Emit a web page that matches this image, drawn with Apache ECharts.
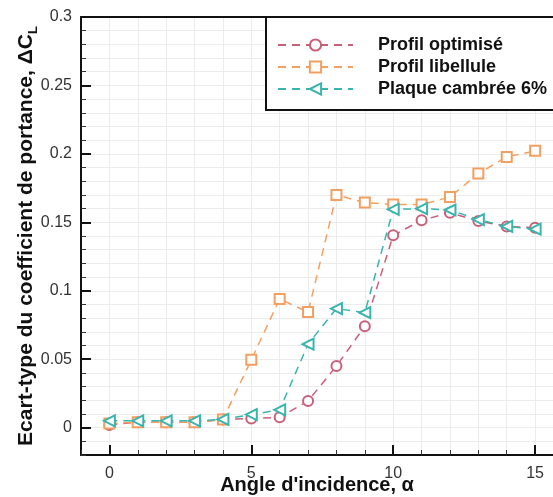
<!DOCTYPE html>
<html>
<head>
<meta charset="utf-8">
<script src="https://cdn.jsdelivr.net/npm/echarts@6/dist/echarts.min.js"></script>
<style>html,body{margin:0;padding:0;background:#fff}#c{width:553px;height:497px}</style>
</head>
<body>
<div id="c"></div>
<script>
var angles = [0,1,2,3,4,5,6,7,8,9,10,11,12,13,14,15];
var profilOptimise = [0.002,0.004,0.004,0.004,0.006,0.0066,0.0075,0.0195,0.045,0.074,0.1405,0.1515,0.157,0.151,0.147,0.146];
var profilLibellule = [0.003,0.004,0.004,0.004,0.006,0.0495,0.094,0.0844,0.170,0.1644,0.163,0.163,0.1685,0.1856,0.1978,0.2022];
var plaqueCambree = [0.005,0.005,0.005,0.005,0.006,0.0095,0.013,0.061,0.087,0.084,0.1595,0.160,0.159,0.152,0.147,0.145];
var seriesNames = ['Profil optimisé','Profil libellule','Plaque cambrée 6%'];
var xMajorTicks = [0,5,10,15];
var yMajorTicks = [0,0.05,0.1,0.15,0.2,0.25,0.3];

var FONT = '"Liberation Sans", Arial, Helvetica, sans-serif';
function pairs(vals){ return angles.map(function(a,i){ return [a, vals[i]]; }); }
var XMIN=-1, XMAX=15.63, YMIN=-0.02, YMAX=0.3;
var gridLine = {show:true, lineStyle:{color:'#ececec', width:1}};

function mkSeries(name, data, color, symbol, rot, size){
  return {
    name:name, type:'line', data:pairs(data), xAxisIndex:0, yAxisIndex:0,
    symbol:symbol, symbolSize:size, symbolRotate:rot||0,
    lineStyle:{color:color, width:1.5, type:[8,6]},
    itemStyle:{color:color, borderColor:color, borderWidth:1.5},
    emphasis:{disabled:true}, animation:false, z:3
  };
}

var chart = echarts.init(document.getElementById('c'), null, {renderer:'canvas'});
chart.setOption({
  animation:false,
  backgroundColor:'#fff',
  grid:{left:81, right:0, top:17, bottom:42, containLabel:false, outerBoundsMode:'none'},
  legend:{
    data:seriesNames, orient:'vertical', left:266, top:17,
    backgroundColor:'#fff', borderColor:'#111', borderWidth:2,
    padding:[19,40,12,11], itemWidth:75, itemHeight:14, itemGap:4,
    selectedMode:false,
    textStyle:{fontFamily:FONT, fontSize:18, fontWeight:'bold', color:'#111', padding:[0,0,0,20], lineHeight:18}
  },
  xAxis:[
    {type:'value', min:XMIN, max:XMAX, interval:1, position:'bottom',
     axisLine:{show:true, onZero:false, lineStyle:{color:'#111', width:2}},
     axisTick:{show:true, inside:true, length:5, lineStyle:{color:'#333', width:1}},
     axisLabel:{show:false}, splitLine:gridLine},
    {type:'value', min:XMIN, max:XMAX, position:'bottom',
     axisLine:{show:false, onZero:false},
     axisTick:{show:true, inside:true, length:10, customValues:xMajorTicks, lineStyle:{color:'#111', width:2}},
     axisLabel:{show:true, customValues:xMajorTicks, margin:11, fontFamily:FONT, fontSize:16, color:'#333'},
     splitLine:{show:false},
     name:"Angle d'incidence, α", nameLocation:'middle', nameGap:20, nameMoveOverlap:false,
     nameTextStyle:{fontFamily:FONT, fontSize:20, fontWeight:'bold', color:'#111'}},
    {type:'value', min:XMIN, max:XMAX, position:'top',
     axisLine:{show:true, onZero:false, lineStyle:{color:'#111', width:2}},
     axisTick:{show:false}, axisLabel:{show:false}, splitLine:{show:false}}
  ],
  yAxis:[
    {type:'value', min:YMIN, max:YMAX, interval:0.01, position:'left',
     axisLine:{show:true, onZero:false, lineStyle:{color:'#111', width:2}},
     axisTick:{show:true, inside:true, length:5, lineStyle:{color:'#333', width:1}},
     axisLabel:{show:false}, splitLine:gridLine},
    {type:'value', min:YMIN, max:YMAX, position:'left',
     axisLine:{show:false, onZero:false},
     axisTick:{show:true, inside:true, length:10, customValues:yMajorTicks, lineStyle:{color:'#111', width:2}},
     axisLabel:{show:true, customValues:yMajorTicks, margin:9, fontFamily:FONT, fontSize:16, color:'#333',
       formatter:function(v){ return String(Math.round(v*100)/100); }},
     splitLine:{show:false},
     name:'Ecart-type du coefficient de portance, ΔC{sub|L}', nameLocation:'middle', nameGap:41, nameMoveOverlap:false,
     nameTextStyle:{fontFamily:FONT, fontSize:21, fontWeight:'bold', color:'#111',
       rich:{sub:{fontFamily:FONT, fontSize:13, fontWeight:'bold', color:'#111', verticalAlign:'bottom', padding:[14,0,0,0]}}}}
  ],
  series:[
    mkSeries(seriesNames[0], profilOptimise, '#c8607a', 'emptyCircle', 0, 10),
    mkSeries(seriesNames[1], profilLibellule, '#f2a062', 'emptyRect', 0, 10),
    mkSeries(seriesNames[2], plaqueCambree, '#3ab5ae', 'emptyTriangle', 90, 11)
  ]
});
</script>
</body>
</html>
